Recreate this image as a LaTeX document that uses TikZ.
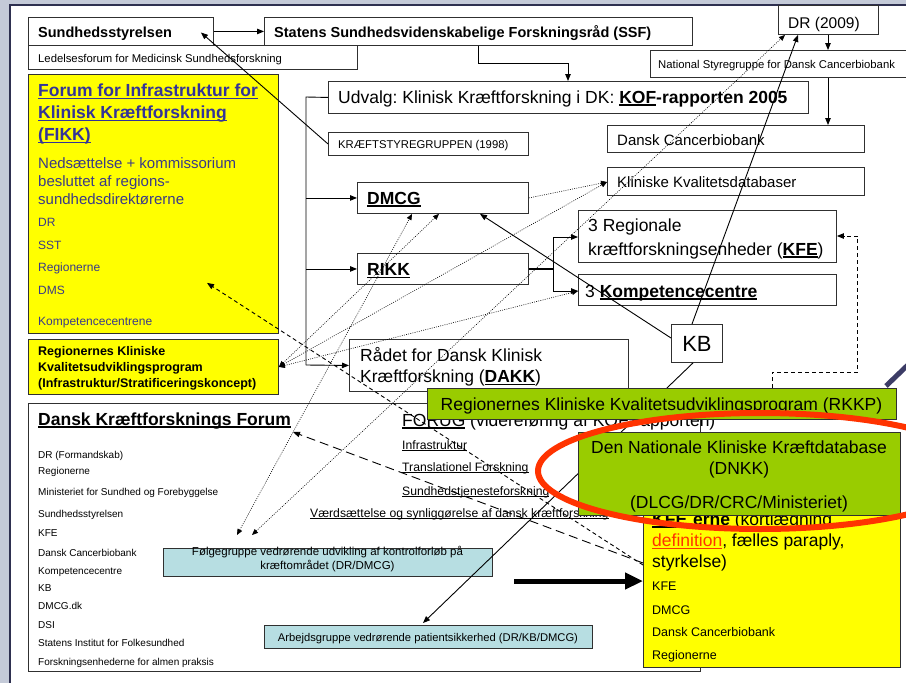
\documentclass[tikz,border=0pt]{standalone}
\usepackage{fontspec}
\setmainfont{Liberation Sans}
\usetikzlibrary{arrows.meta,calc}
\definecolor{bgblue}{HTML}{C4CAD8}
\definecolor{edgec}{HTML}{2E3050}
\definecolor{ylw}{HTML}{FFFF00}
\definecolor{grn}{HTML}{99CC00}
\definecolor{cyn}{HTML}{B7DEE2}
\definecolor{fikkblue}{HTML}{333399}
\definecolor{fikktxt}{HTML}{3A3A88}
\definecolor{ellred}{HTML}{FF3300}
\definecolor{purp}{HTML}{3C3C66}
\definecolor{boxline}{HTML}{303030}
\frenchspacing
\newcommand\myfs[1]{\fontsize{#1}{#1}\selectfont}
\newcommand\myul[1]{\setbox0\hbox{#1}\rlap{\raisebox{-0.15em}{\rule{\wd0}{0.07em}}}\copy0\relax}
\begin{document}
\begin{tikzpicture}[x=1pt,y=-1pt,
  box/.style={draw=boxline, line width=0.9pt, fill=white, inner sep=0pt, anchor=north west},
  t/.style={anchor=base west, inner sep=0pt},
  tc/.style={anchor=base, inner sep=0pt},
  ln/.style={line width=0.9pt},
  arr/.style={line width=0.9pt, -{Triangle[length=7pt,width=5.5pt]}},
  dotl/.style={line width=0.6pt, dash pattern=on 0.9pt off 1.3pt},
  dotarr/.style={dotl, {Triangle[length=6pt,width=5pt]}-{Triangle[length=6pt,width=5pt]}},
  dotone/.style={dotl, -{Triangle[length=6pt,width=5pt]}},
  dsh/.style={line width=0.9pt, dash pattern=on 4pt off 3pt, -{Triangle[length=7pt,width=5.5pt]}},
  dshlong/.style={line width=0.9pt, dash pattern=on 9pt off 5pt, -{Triangle[length=7pt,width=5.5pt]}}]
\useasboundingbox (0,0) rectangle (906,683);
\fill[bgblue] (0,0) rectangle (906,683);
\fill[white] (10,5) rectangle (906,683);
\draw[edgec, line width=1.3pt] (10,683) -- (10,5) -- (906,5);

% ---------- boxes (lower layer)
\node[box, minimum width=185, minimum height=28] (ss) at (28,17) {};
\node[box, minimum width=329, minimum height=24] (led) at (28,45) {};
\node[box, minimum width=428, minimum height=28] (ssf) at (264,17) {};
\node[box, minimum width=480, minimum height=32] (kof) at (328,81) {};
\node[box, minimum width=100, minimum height=29] (dr9) at (778,5) {};
\node[box, minimum width=262, minimum height=27] (nsty) at (650,50) {};
\node[box, minimum width=257, minimum height=27] (dcb) at (607,125) {};
\node[box, minimum width=200, minimum height=23] (kst) at (328,132) {};
\node[box, minimum width=257, minimum height=28] (kkd) at (607,167) {};
\node[box, minimum width=171, minimum height=31] (dmcg) at (357,182) {};
\node[box, minimum width=258, minimum height=52] (kfe3) at (578,210) {};
\node[box, minimum width=171, minimum height=31] (rikk) at (357,253) {};
\node[box, minimum width=258, minimum height=31] (komp) at (578,274) {};
\node[box, minimum width=279, minimum height=52] (raad) at (349,339) {};
\node[box, fill=ylw, minimum width=250, minimum height=259] (fikk) at (28,74) {};
\node[box, fill=ylw, minimum width=250, minimum height=55] (rkkpy) at (28,339) {};
\node[box, minimum width=672, minimum height=268] (dkf) at (28,403) {};
\node[box, fill=cyn, minimum width=329, minimum height=28] (folg) at (163,548) {};
\node[box, fill=cyn, minimum width=328, minimum height=23] (arb) at (264,625) {};
\node[box, minimum width=51, minimum height=38, font=\myfs{22}] (kb) at (671,324) {KB};

% ---------- texts
\node[t, font=\bfseries\myfs{14.5}] (ssT) at (38,37) {Sundhedsstyrelsen};
\node[t, font=\myfs{11.3}] (ledT) at (38,62) {Ledelsesforum for Medicinsk Sundhedsforskning};
\node[t, font=\bfseries\myfs{14.5}] (ssfT) at (274,37) {Statens Sundhedsvidenskabelige Forskningsråd (SSF)};
\node[t, font=\myfs{17.5}] (kofT) at (338,103) {Udvalg: Klinisk Kræftforskning i DK: \textbf{\myul{KOF}-rapporten 2005}};
\node[t, font=\myfs{15.5}] (dr9T) at (788,28) {DR (2009)};
\node[t, font=\myfs{11.3}] (nstyT) at (658,68.5) {National Styregruppe for Dansk Cancerbiobank};
\node[t, font=\myfs{11.3}] (kstT) at (338,148) {KRÆFTSTYREGRUPPEN (1998)};
\node[t, font=\myfs{15}] (dcbT) at (617,145.5) {Dansk Cancerbiobank};
\node[t, font=\myfs{15}] (kkdT) at (617,187) {Kliniske Kvalitetsdatabaser};
\node[t, font=\bfseries\myfs{17.5}] (dmcgT) at (367,204) {\myul{DMCG}};
\node[t, font=\myfs{17.5}] (kfe3Ta) at (588,231.5) {3 Regionale};
\node[t, font=\myfs{17.5}] (kfe3Tb) at (588,255) {kræftforskningsenheder (\textbf{\myul{KFE}})};
\node[t, font=\bfseries\myfs{17.5}] (rikkT) at (367,275.5) {\myul{RIKK}};
\node[t, font=\myfs{17.5}] (kompT) at (585,297) {3 \textbf{\myul{Kompetencecentre}}};
\node[t, font=\myfs{17.5}] (raadTa) at (360,361.5) {Rådet for Dansk Klinisk};
\node[t, font=\myfs{17.5}] (raadTb) at (360,382.5) {Kræftforskning (\textbf{\myul{DAKK}})};

\node[t, font=\bfseries\myfs{17.5}, text=fikkblue] (fikkT1) at (38,96.5) {\myul{Forum for Infrastruktur for}};
\node[t, font=\bfseries\myfs{17.5}, text=fikkblue] (fikkT2) at (38,118.5) {\myul{Klinisk Kræftforskning}};
\node[t, font=\bfseries\myfs{17.5}, text=fikkblue] (fikkT3) at (38,140.5) {\myul{(FIKK)}};
\node[t, font=\myfs{15}, text=fikktxt] (fikkN1) at (38,168.3) {Nedsættelse + kommissorium};
\node[t, font=\myfs{15}, text=fikktxt] (fikkN2) at (38,186) {besluttet af regions-};
\node[t, font=\myfs{15}, text=fikktxt] (fikkN3) at (38,204) {sundhedsdirektørerne};
\node[t, font=\myfs{12}, text=fikktxt] (fikkL1) at (38,226) {DR};
\node[t, font=\myfs{12}, text=fikktxt] (fikkL2) at (38,249) {SST};
\node[t, font=\myfs{12}, text=fikktxt] (fikkL3) at (38,271.5) {Regionerne};
\node[t, font=\myfs{12}, text=fikktxt] (fikkL4) at (38,294) {DMS};
\node[t, font=\myfs{12}, text=fikktxt] (fikkL5) at (38,325) {Kompetencecentrene};

\node[t, font=\bfseries\myfs{12.5}] (rkkpyT1) at (38,355.7) {Regionernes Kliniske};
\node[t, font=\bfseries\myfs{12.5}] (rkkpyT2) at (38,371.7) {Kvalitetsudviklingsprogram};
\node[t, font=\bfseries\myfs{12.5}] (rkkpyT3) at (38,387.5) {(Infrastruktur/Stratificeringskoncept)};

\node[t, font=\bfseries\myfs{17.5}] (dkfT) at (38,425) {\myul{Dansk Kræftforsknings Forum}};
\node[t, font=\myfs{10}] (dkf1) at (38,458.3) {DR (Formandskab)};
\node[t, font=\myfs{10}] (dkf2) at (38,474) {Regionerne};
\node[t, font=\myfs{10}] (dkf3) at (38,495) {Ministeriet for Sundhed og Forebyggelse};
\node[t, font=\myfs{10}] (dkf4) at (38,517) {Sundhedsstyrelsen};
\node[t, font=\myfs{10}] (dkf5) at (38,536.5) {KFE};
\node[t, font=\myfs{10}] (dkf6) at (38,556.5) {Dansk Cancerbiobank};
\node[t, font=\myfs{10}] (dkf7) at (38,574) {Kompetencecentre};
\node[t, font=\myfs{10}] (dkf8) at (38,591.5) {KB};
\node[t, font=\myfs{10}] (dkf9) at (38,609.3) {DMCG.dk};
\node[t, font=\myfs{10}] (dkf10) at (38,628.3) {DSI};
\node[t, font=\myfs{10}] (dkf11) at (38,646) {Statens Institut for Folkesundhed};
\node[t, font=\myfs{10}] (dkf12) at (38,665) {Forskningsenhederne for almen praksis};

\node[t, font=\myfs{17.5}] (forug) at (402,426) {\myul{FORUG} (videreføring af KOF-rapporten)};
\node[t, font=\myfs{12.2}] (forug1) at (402,449) {\myul{Infrastruktur}};
\node[t, font=\myfs{12.2}] (forug2) at (402,471.5) {\myul{Translationel Forskning}};
\node[t, font=\myfs{12.2}] (forug3) at (402,495) {\myul{Sundhedstjenesteforskning}};
\node[t, font=\myfs{12.2}] (forug4) at (310,517) {\myul{Værdsættelse og synliggørelse af dansk kræftforskning}};

\node[tc, font=\myfs{11.5}] (folgT1) at (327.5,555.7) {Følgegruppe vedrørende udvikling af kontrolforløb på};
\node[tc, font=\myfs{11.5}] (folgT2) at (327.5,569) {kræftområdet (DR/DMCG)};
\node[tc, font=\myfs{11.2}] (arbT) at (428,641.7) {Arbejdsgruppe vedrørende patientsikkerhed (DR/KB/DMCG)};

% ---------- connectors
\coordinate (trtop) at (306,97);
\coordinate (trbot) at (306,365);
\draw[ln] (kof.west) -- (trtop) -- (trbot);
\draw[arr] (trbot) -- (raad.west);
\draw[arr] (dmcg.west -| trtop) -- (dmcg.west);
\draw[arr] (rikk.west -| trtop) -- (rikk.west);
\draw[arr] (ss.east) -- (ssf.west);
\draw[arr] ($(ssf.south west)+(214,0)$) -- ++(0,18) -| ($(kof.north west)+(240,0)$);
\draw[arr] ($(dr9.south west)+(50,0)$) -- ($(nsty.north west)+(178,0)$);
\draw[arr] ($(nsty.south west)+(178,0)$) -- ($(dcb.north west)+(221,0)$);
\draw[arr] (kst.west) -- ($(ss.east)+(-13,1)$);
\coordinate (rb) at ($(rikk.east)+(25,0)$);
\draw[ln, line width=1.2pt] (rikk.east) -- (rb);
\draw[arr] (rb) |- ($(kfe3.north west)+(0,27)$);
\draw[arr] (rb) |- ($(komp.north west)+(0,17)$);
\draw[arr] ($(kb.north west)+(0,14)$) -- ($(dmcg.south west)+(123,0)$);
\draw[arr] ($(kb.north west)+(21,0)$) -- ($(dr9.south west)+(20,0)$);
\draw[arr] ($(kb.south west)+(22,0)$) -- ($(arb.north west)+(159,-2)$);

\draw[dotarr] (rkkpy.east) -- ($(dmcg.south west)+(82,0)$);
\draw[dotarr] (rkkpy.east) -- ($(kkd.north west)+(0,15)$);
\draw[dotarr] (rkkpy.east) -- ($(komp.north west)+(0,17)$);
\draw[dotone] (dmcg.east) -- ($(kkd.north west)+(0,15)$);
\draw[dotarr] ($(folg.north west)+(74,-13)$) -- ($(dmcg.south west)+(55,0)$);
\draw[dotarr] ($(folg.north west)+(89,-13)$) -- ($(dr9.south west)+(7,0)$);

% ---------- upper layer
\node[box, fill=grn, minimum width=469, minimum height=31] (rkkp) at (427,388) {};
\node[tc, font=\myfs{17.5}] (rkkpT) at (661.5,410) {Regionernes Kliniske Kvalitetsudviklingsprogram (RKKP)};
\draw[dsh] ($(rkkp.north west)+(345,0)$) -- ++(0,-16) -| ($(kfe3.north east)+(21,26)$) -- ($(kfe3.north east)+(0,26)$);

\node[box, fill=ylw, minimum width=257, minimum height=197] (kfey) at (643,470) {};
\node[t, font=\myfs{17.5}] (kfeyT1) at (652,525) {\textbf{\myul{KFE´erne}} (kortlægning,};
\node[t, font=\myfs{17.5}] (kfeyT2) at (652,546.5) {\textcolor{ellred}{\myul{definition}}, fælles paraply,};
\node[t, font=\myfs{17.5}] (kfeyT3) at (652,567) {styrkelse)};
\node[t, font=\myfs{12.5}] (kfeyL1) at (652,590.7) {KFE};
\node[t, font=\myfs{12.5}] (kfeyL2) at (652,614) {DMCG};
\node[t, font=\myfs{12.5}] (kfeyL3) at (652,636.5) {Dansk Cancerbiobank};
\node[t, font=\myfs{12.5}] (kfeyL4) at (652,659.3) {Regionerne};

\draw[dsh] ($(kfey.north west)+(0,95)$) -- ($(fikk.south west)+(179,-51)$);
\draw[dshlong] ($(kfey.north west)+(0,93)$) -- ($(dkf.north west)+(265,29)$);

\node[box, fill=grn, minimum width=322, minimum height=83] (dnkk) at (578,432) {};
\node[tc, font=\myfs{17.5}] (dnkkT1) at (739,453.3) {Den Nationale Kliniske Kræftdatabase};
\node[tc, font=\myfs{17.5}] (dnkkT2) at (739,474.5) {(DNKK)};
\node[tc, font=\myfs{17.5}] (dnkkT3) at (739,508) {(DLCG/DR/CRC/Ministeriet)};

\draw[line width=5pt, -{Triangle[length=18pt,width=16pt]}] ($(kfey.north west)+(-129,111)$) -- ($(kfey.north west)+(0,111)$);
\draw[ellred, line width=6pt] (760,471) ellipse [x radius=222, y radius=58];
\draw[purp, line width=5pt] (886,386) -- (912,361);
\end{tikzpicture}
\end{document}
